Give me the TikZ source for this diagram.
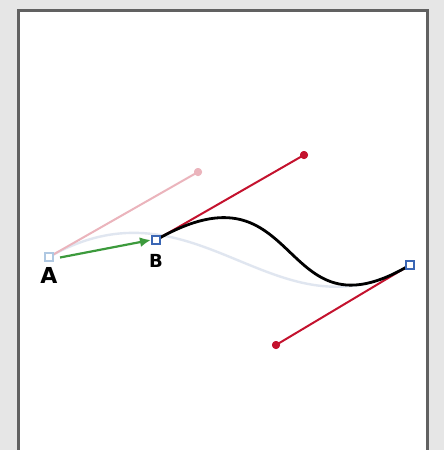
\documentclass[tikz,border=0pt]{standalone}
\usepackage{fontspec}
\setmainfont{DejaVu Sans}
\usepackage{tikz}
\usetikzlibrary{arrows.meta,positioning}
\definecolor{panelgray}{HTML}{E6E6E6}
\definecolor{handlered}{HTML}{C4122E}
\definecolor{fadered}{HTML}{EBB4BC}
\definecolor{anchorblue}{HTML}{3A66B4}
\definecolor{fadeblue}{HTML}{AFC8E2}
\definecolor{fadecurve}{HTML}{E0E6F0}
\definecolor{movegreen}{HTML}{3C9A3C}
\tikzstyle{anchorpt} = [rectangle, draw=anchorblue, fill=white, line width=1.6pt,
                        minimum size=8.5pt, inner sep=0pt]
\tikzstyle{handledot} = [circle, fill=handlered, minimum size=8pt, inner sep=0pt]
\tikzstyle{handle} = [handlered, line width=2pt]
\tikzstyle{ptlabel} = [font=\bfseries, text=black, inner sep=0pt]
\tikzstyle{arrow} = [-{Latex[length=11pt,width=10pt]}, movegreen, line width=2.2pt]

\begin{document}
\begin{tikzpicture}[x=1pt,y=-1pt]
    \useasboundingbox (0,0) rectangle (444,450);
    \fill [panelgray] (0,0) rectangle (444,450);
    \draw [fill=white, draw=black!62, line width=2.2pt] (18.5,10.5) rectangle (427.5,453);

    % old anchor and its handle
    \node [handledot, fill=fadered] (hA) at (198,172) {};
    \node [anchorpt, draw=fadeblue] (A) at (49,257) {};
    \node [handledot] (hB) at (304,155) {};
    \node [anchorpt] (B) at (156,240) {};
    \node [handledot] (hC) at (276,345) {};
    \node [anchorpt] (C) at (410,265) {};

    \draw [fadecurve, line width=2.4pt] (A.center) .. controls (hA.center) and (hC.center) .. (C.center);
    \draw [fadered, line width=2pt] (A.center) -- (hA.center);
    \draw [handle] (B.center) -- (hB.center);
    \draw [handle] (C.center) -- (hC.center);
    \draw [black, line width=2.8pt] (B.center) .. controls (hB.center) and (hC.center) .. (C.center);

    % redraw points on top
    \node [handledot, fill=fadered] at (hA) {};
    \node [handledot] at (hB) {};
    \node [handledot] at (hC) {};
    \node [anchorpt, draw=fadeblue] at (A) {};
    \node [anchorpt] at (B) {};
    \node [anchorpt] at (C) {};

    \draw [arrow] (A.east) ++(6,0.5) coordinate (a0) (a0) -- (B.west);

    \node [ptlabel, font=\fontsize{22}{22}\bfseries, below=5pt of A] (labA) {A};
    \node [ptlabel, font=\fontsize{18}{18}\bfseries, below=9pt of B] (labB) {B};
\end{tikzpicture}
\end{document}
